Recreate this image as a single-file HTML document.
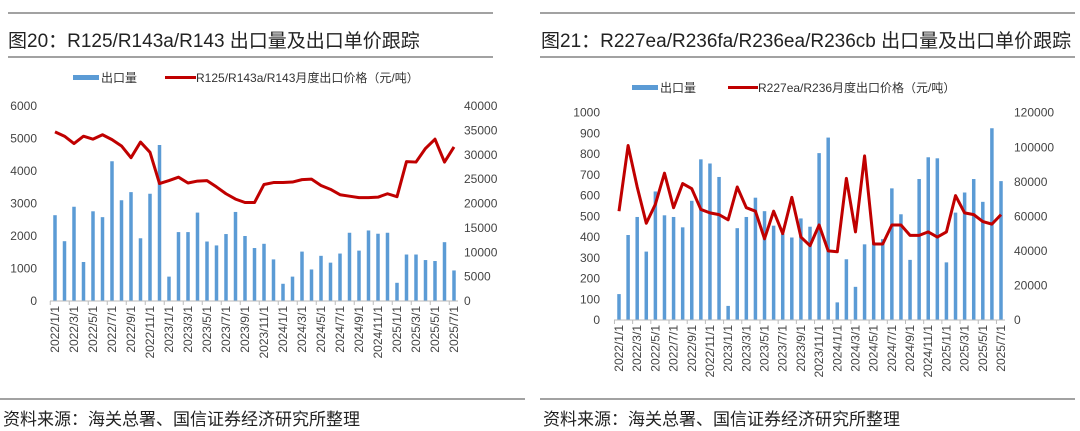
<!DOCTYPE html>
<html><head><meta charset="utf-8">
<style>
body{margin:0;background:#fff;}
svg{display:block;font-family:"Liberation Sans","Noto Sans CJK SC",sans-serif;}
</style></head>
<body>
<svg id="c" width="1080" height="431" viewBox="0 0 1080 431">
<line x1="8" y1="13" x2="493" y2="13" stroke="#444" stroke-width="1"/>
<line x1="8" y1="57" x2="493" y2="57" stroke="#444" stroke-width="1"/>
<line x1="540" y1="13" x2="1075" y2="13" stroke="#444" stroke-width="1"/>
<line x1="540" y1="57" x2="1075" y2="57" stroke="#444" stroke-width="1"/>
<line x1="0" y1="399" x2="525" y2="399" stroke="#444" stroke-width="1"/>
<line x1="540" y1="399" x2="1075" y2="399" stroke="#444" stroke-width="1"/>
<text x="8" y="47" font-size="19" fill="#222">图20：R125/R143a/R143 出口量及出口单价跟踪</text>
<text x="541" y="47" font-size="19" fill="#222">图21：R227ea/R236fa/R236ea/R236cb 出口量及出口单价跟踪</text>
<text x="3" y="425" font-size="17" fill="#222">资料来源：海关总署、国信证券经济研究所整理</text>
<text x="543" y="425" font-size="17" fill="#222">资料来源：海关总署、国信证券经济研究所整理</text>
<rect x="73" y="75" width="26" height="5" fill="#5b9bd5"/>
<text x="101" y="82" font-size="12" fill="#333">出口量</text>
<line x1="165" y1="77.5" x2="196" y2="77.5" stroke="#c00000" stroke-width="3"/>
<text x="196" y="82" font-size="12" fill="#333">R125/R143a/R143月度出口价格（元/吨）</text>
<rect x="632" y="85" width="26" height="5" fill="#5b9bd5"/>
<text x="660" y="92" font-size="12" fill="#333">出口量</text>
<line x1="728" y1="87.5" x2="758" y2="87.5" stroke="#c00000" stroke-width="3"/>
<text x="758" y="92" font-size="12" fill="#333">R227ea/R236月度出口价格（元/吨）</text>
<g id="left"></g><g id="right"></g>
</svg>
<script>
const categories = [];
for (let y = 2022; y <= 2025; y++) for (let m = 1; m <= 12; m++) { if (y === 2025 && m > 7) break; categories.push(y + '/' + m + '/1'); }
const leftVolume = [2640,1840,2900,1200,2760,2580,4300,3100,3350,1930,3300,4800,750,2120,2120,2720,1830,1710,2060,2740,2000,1630,1760,1280,530,750,1520,970,1390,1180,1460,2100,1550,2170,2070,2100,560,1430,1430,1260,1230,1810,940];
const leftPrice = [34700,33800,32300,33800,33200,34100,33100,31800,29400,32600,30500,24100,24700,25400,24200,24600,24700,23400,22000,20900,20200,20200,23900,24300,24300,24400,24900,25000,23700,22900,21800,21500,21200,21200,21300,22000,21400,28600,28500,31300,33200,28500,31600];
const leftTicksL = [0,1000,2000,3000,4000,5000,6000];
const leftTicksR = [0,5000,10000,15000,20000,25000,30000,35000,40000];
const rightVolume = [125,410,497,330,620,505,497,447,575,775,755,690,68,443,497,590,525,455,415,398,490,450,805,880,85,293,160,365,375,390,635,510,290,680,785,780,278,518,615,680,570,925,670];
const rightPrice = [63000,101000,77000,56000,67000,85000,65000,79000,76000,64000,62000,61000,58000,77000,65000,63000,47000,63000,50000,71000,48000,43000,55000,40000,39500,82000,51000,95000,44000,44000,55000,55000,49000,49000,51000,48000,51000,72000,62000,61000,57000,55500,61000];
const rightTicksL = [0,100,200,300,400,500,600,700,800,900,1000];
const rightTicksR = [0,20000,40000,60000,80000,100000,120000];
const NS = 'http://www.w3.org/2000/svg';
function mk(parent, tag, attrs){ const e = document.createElementNS(NS, tag); for (const k in attrs) e.setAttribute(k, attrs[k]); parent.appendChild(e); return e; }
function draw(g, cfg){
  const n = cfg.cats.length;
  const xs = i => cfg.x0 + i * (cfg.x1 - cfg.x0) / (n - 1);
  const yl = v => cfg.yb - v / cfg.maxL * (cfg.yb - cfg.yt);
  const yr = v => cfg.yb - v / cfg.maxR * (cfg.yb - cfg.yt);
  cfg.ticksL.forEach(t => { const e = mk(g,'text',{x:cfg.lx,y:yl(t)+4,'font-size':12,fill:'#444','text-anchor':'end'}); e.textContent = t;
    
     });
  cfg.ticksR.forEach(t => { const e = mk(g,'text',{x:cfg.rx,y:yr(t)+4,'font-size':12,fill:'#444'}); e.textContent = t;
    
     });
  cfg.vol.forEach((v,i) => { const b = mk(g,'rect',{x:xs(i)-cfg.bw/2,y:yl(v),width:cfg.bw,height:cfg.yb-yl(v),fill:'#5b9bd5'});
    
     });
  const ax = mk(g,'line',{x1:cfg.x0-5,x2:cfg.x1+4,y1:cfg.yb,y2:cfg.yb,stroke:'#bbb'});
  
  
  cfg.cats.forEach((c,i) => { if (i % 2) return; const x = xs(i);
    const t = mk(g,'line',{x1:x-cfg.sp/2,x2:x-cfg.sp/2,y1:cfg.yb,y2:cfg.yb+4,stroke:'#bbb'});
    
    
    const e = mk(g,'text',{x:0,y:0,'font-size':12,fill:'#444','text-anchor':'end',transform:`translate(${x+4},${cfg.yb+5}) rotate(-90)`}); e.textContent = c;
    
     });
  const p = mk(g,'polyline',{points:cfg.price.map((v,i)=>xs(i)+','+yr(v)).join(' '),fill:'none',stroke:'#c00000','stroke-width':3,'stroke-linejoin':'round'});
  
  
}
draw(document.getElementById('left'), {cats:categories,vol:leftVolume,price:leftPrice,ticksL:leftTicksL,ticksR:leftTicksR,maxL:6000,maxR:40000,x0:55,x1:454,yt:106,yb:301,bw:3.5,sp:9.5,lx:37,rx:464});
draw(document.getElementById('right'), {cats:categories,vol:rightVolume,price:rightPrice,ticksL:rightTicksL,ticksR:rightTicksR,maxL:1000,maxR:120000,x0:619,x1:1001,yt:112.7,yb:320,bw:3.5,sp:9.1,lx:600,rx:1014});
</script>
</body></html>
